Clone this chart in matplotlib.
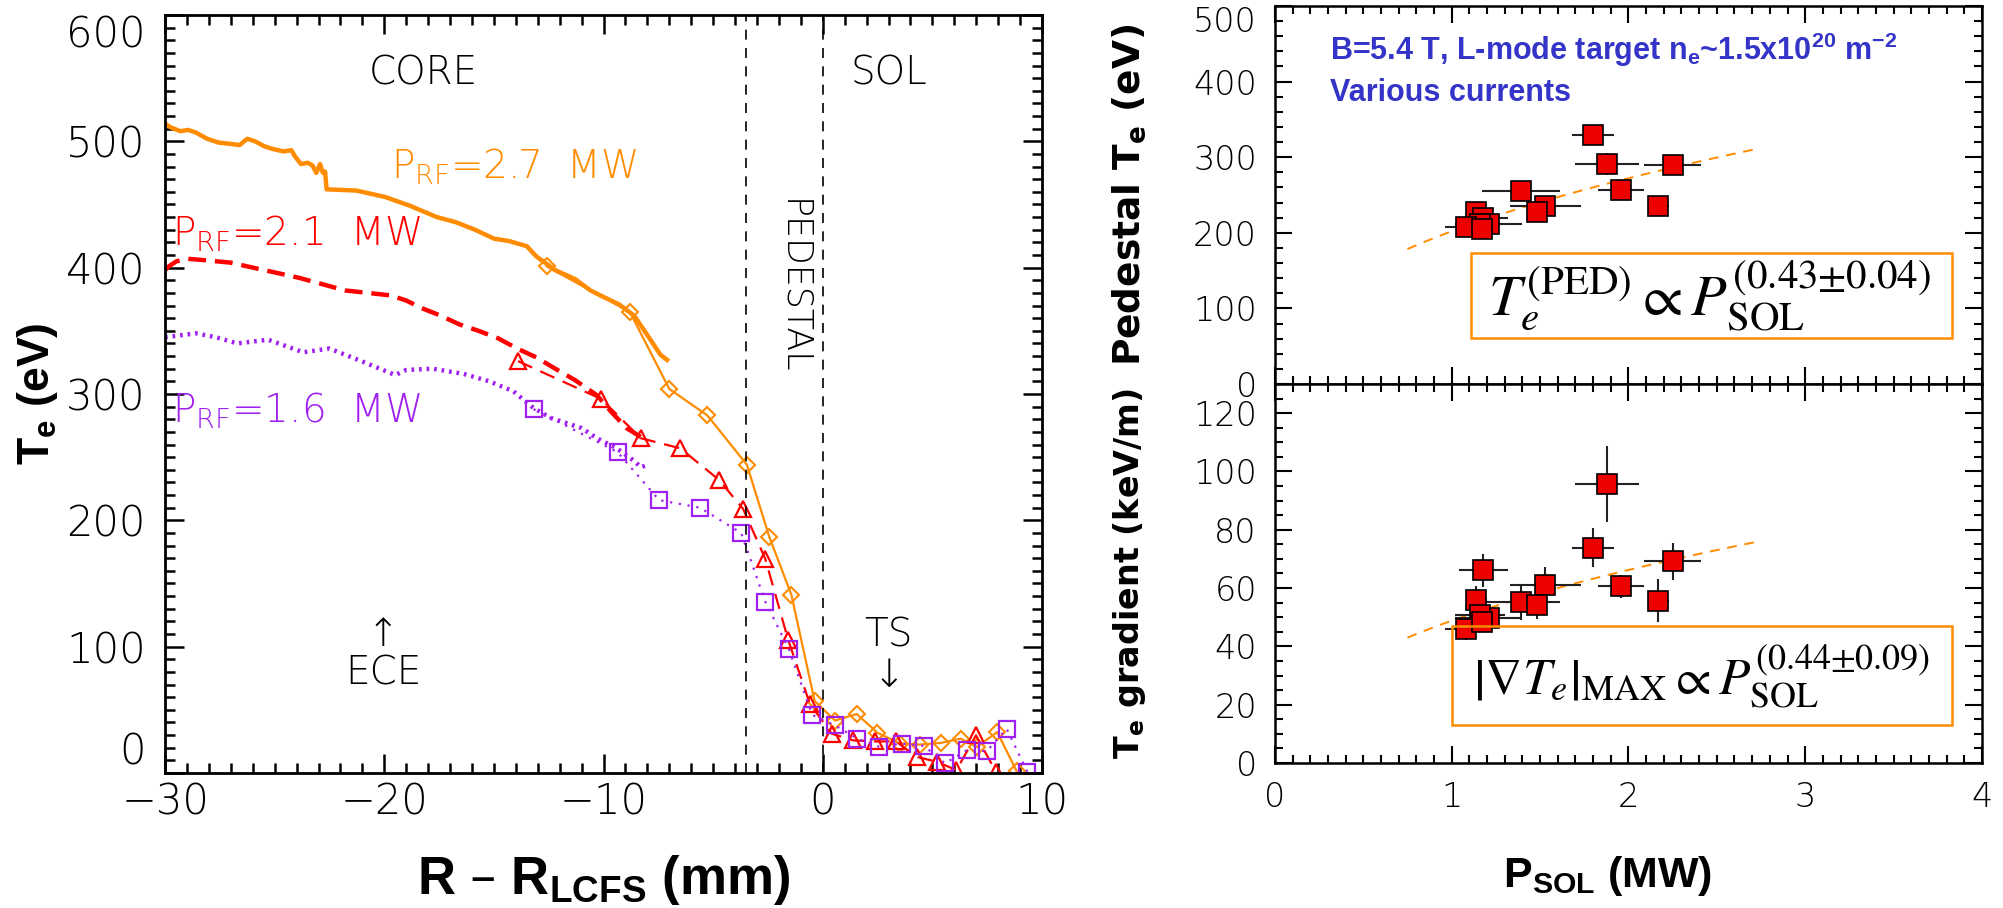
import numpy as np
import matplotlib.pyplot as plt
from matplotlib.ticker import MultipleLocator
from matplotlib.patches import Rectangle

ORANGE = '#ff8c00'
RED = '#ff0000'
PURPLE = '#a020f0'
BLUE = '#3434c8'

# --- ECE profiles (thick lines) ---
ece27_x = [-30, -29.74, -29.3, -28.95, -28.6, -28.08, -27.56, -27.03, -26.6, -26.25, -25.9, -25.46,
           -25.1, -24.6, -24.24, -24.07, -23.8, -23.5, -23.28, -23.1, -22.93, -22.8, -22.7, -22.63,
           -21.27, -19.97, -18.83, -17.6, -16.74, -15.86, -15.0, -14.3, -13.5, -13.07, -12.2, -11.3,
           -10.6, -10.14, -9.3, -8.6, -7.9, -7.4, -7.1]
ece27_t = [514, 511, 508, 509, 507, 502, 499, 498, 497, 502, 500, 496,
           494, 492, 493, 488, 482, 483, 481, 475, 482, 475, 476, 462,
           461, 456, 449, 440, 436, 430, 423, 421, 417, 409, 398, 391,
           382, 378, 371, 362, 344, 331, 327]

ece21_x = [-30, -29.83, -29.48, -28.95, -28.25, -27.03, -25.99, -24.94, -23.9, -22.84, -21.8, -20.75,
           -19.7, -19.0, -18.3, -17.43, -16.56, -15.7, -14.8, -13.94, -13.07, -12.2, -11.3, -10.3,
           -9.6, -8.95, -8.3]
ece21_t = [398, 401, 405, 407, 406, 404, 400, 396, 392, 387, 382, 380,
           378, 374, 368, 362, 355, 350, 344, 336, 329, 320, 311, 299,
           285, 273, 266]

ece16_x = [-30, -29.5, -28.6, -27.7, -26.7, -25.3, -23.7, -22.5, -20.9, -19.5, -19.0, -17.8,
           -16.4, -15.2, -14.1, -13.2, -12.4, -11.0, -10.3, -9.4, -8.6, -8.3, -7.97]
ece16_t = [345, 346, 348, 345, 340, 343, 333, 336, 325, 315, 319, 320,
           316, 310, 302, 289, 281, 273, 265, 257, 247, 242, 244]

# --- Thomson scattering profiles (symbols) ---
ts27_x = [-12.6, -8.8, -7.0, -5.26, -3.46, -2.44, -1.43, -0.37, 0.56, 1.55, 2.49, 3.52,
          4.43, 5.38, 6.29, 7.02, 7.96, 8.84]
ts27_t = [401, 365, 304, 283, 244, 187, 141, 57, 41.5, 46.7, 31.9, 23.3,
          22.5, 23.8, 27.2, 20.6, 32.4, 1.6]

ts21_x = [-13.9, -10.1, -8.3, -6.5, -4.73, -3.63, -2.62, -1.58, -0.59, 0.41, 1.39, 2.38,
          3.34, 4.28, 5.2, 6.1, 6.99, 7.9]
ts21_t = [326, 296, 265, 257, 232, 209, 169.5, 105.6, 54.8, 31.1, 25.8, 25,
          25, 12.8, 8.9, 2.3, 29.8, 1]

ts16_x = [-13.19, -9.36, -7.46, -5.6, -3.72, -2.62, -1.54, -0.48, 0.56, 1.58, 2.58, 3.6,
          4.62, 5.58, 6.57, 7.48, 8.39, 9.33]
ts16_t = [288, 254, 216, 210, 190, 135.6, 97.8, 46, 37.6, 27.2, 20.6, 23.3,
          21.4, 7.6, 18, 17.2, 35, 1]

# --- Pedestal scaling data ---
p_sol = [1.80, 1.88, 2.25, 1.96, 2.17, 1.39, 1.53, 1.48, 1.14, 1.18, 1.21, 1.16, 1.08, 1.17]
p_err = [0.12, 0.18, 0.16, 0.13, 0.06, 0.22, 0.20, 0.05, 0.06, 0.14, 0.19, 0.14, 0.12, 0.06]
te_ped = [329, 291, 290, 256, 236, 255, 236, 227, 227, 219, 211, 212, 208, 205]
te_ped_err = [13, 14, 11, 5, 12, 11, 6, 6, 5, 8, 5, 5, 5, 5]
grad_te = [73.8, 95.8, 69.2, 60.6, 55.7, 55.2, 61.2, 54.3, 56.0, 66.1, 49.7, 50.6, 45.9, 48.5]
grad_te_err = [6.7, 13, 6.3, 4, 7.3, 6, 6, 5, 4.6, 5.7, 3, 3, 3.7, 3]

fit_ped = (202.0, 0.43)
fit_grad = (48.8, 0.44)
fit_range = (0.75, 2.73)

thin = dict(family=['DejaVu Sans'], weight='light')
narrow_bold = dict(family=['Liberation Sans Narrow', 'Liberation Sans'], weight='bold')


def style_ticklabels(a, size):
    for lab in a.get_xticklabels() + a.get_yticklabels():
        lab.set_fontsize(size)
        lab.set_fontfamily(thin['family'])
        lab.set_fontweight(thin['weight'])


def pull_in_end_labels(a, lo=None, hi=None):
    # keep the first/last y tick label inside the frame
    for loc, tick in zip(a.yaxis.get_majorticklocs(), a.yaxis.get_major_ticks()):
        if lo is not None and np.isclose(loc, lo):
            tick.label1.set_va('bottom')
        if hi is not None and np.isclose(loc, hi):
            tick.label1.set_va('top')


fig = plt.figure(figsize=(20.03, 9.08), dpi=100)

# ---------------- left: Te profiles ----------------
ax = fig.add_axes([0.0824, 0.1487, 0.4378, 0.8348])
ax.plot(ece27_x, ece27_t, color=ORANGE, lw=3.2, solid_joinstyle='round')
ax.plot(ece21_x, ece21_t, color=RED, lw=3.2, ls=(0, (4, 2)))
ax.plot(ece16_x, ece16_t, color=PURPLE, lw=3.2, ls=(0, (0.6, 1.1)))

ax.plot(ts27_x, ts27_t, color=ORANGE, lw=1.6, marker='D', ms=8, mfc='none', mew=1.5)
ax.plot(ts21_x, ts21_t, color=RED, lw=1.6, ls=(0, (7, 4)), marker='^', ms=11, mfc='none', mew=1.6)
ax.plot(ts16_x, ts16_t, color=PURPLE, lw=1.6, ls=(0, (1, 3)), marker='s', ms=11, mfc='none', mew=1.6)

for xv in (-3.5, 0):
    ax.axvline(xv, color='black', lw=1.2, ls=(0, (6, 5)))

ax.set_xlim(-30, 10)
ax.set_ylim(0, 600)
ax.xaxis.set_major_locator(MultipleLocator(10))
ax.xaxis.set_minor_locator(MultipleLocator(1))
ax.yaxis.set_major_locator(MultipleLocator(100))
ax.yaxis.set_minor_locator(MultipleLocator(10))
ax.tick_params(which='both', direction='in', top=True, right=True, width=1.8)
ax.tick_params(which='major', length=14)
ax.tick_params(which='minor', length=7)
ax.tick_params(axis='y', pad=14)
ax.tick_params(axis='x', pad=6)
for sp in ax.spines.values():
    sp.set_linewidth(2)
style_ticklabels(ax, 30)
pull_in_end_labels(ax, lo=0, hi=600)

ax.set_xlabel(r'R – $\mathregular{R_{LCFS}}$ (mm)', fontsize=38, **narrow_bold)
ax.xaxis.set_label_coords(0.5, -0.105)
ax.set_ylabel(r'$\mathregular{T_e}$ (eV)', fontsize=32, fontweight='bold', family=['Liberation Sans'])
ax.yaxis.set_label_coords(-0.12, 0.5)

ax.text(-18.2, 554, 'CORE', fontsize=28, ha='center', va='center', **thin)
ax.text(3.0, 554, 'SOL', fontsize=28, ha='center', va='center', **thin)
ax.text(-1.36, 385, 'PEDESTAL', fontsize=25, rotation=270, ha='center', va='center', **thin)
ax.text(-20.05, 109, '↑', fontsize=28, ha='center', va='center', **thin)
ax.text(-20.05, 79, 'ECE', fontsize=28, ha='center', va='center', **thin)
ax.text(3.0, 109, 'TS', fontsize=28, ha='center', va='center', **thin)
ax.text(3.0, 77, '↓', fontsize=28, ha='center', va='center', **thin)

ax.text(-19.7, 480, r'$\mathregular{P_{RF}}$=2.7  MW', color=ORANGE, fontsize=28, va='center', **thin)
ax.text(-29.7, 427, r'$\mathregular{P_{RF}}$=2.1  MW', color=RED, fontsize=28, va='center', **thin)
ax.text(-29.7, 287, r'$\mathregular{P_{RF}}$=1.6  MW', color=PURPLE, fontsize=28, va='center', **thin)

# ---------------- right: pedestal scalings ----------------
axt = fig.add_axes([0.6365, 0.5771, 0.353, 0.4163])
axb = fig.add_axes([0.6365, 0.1597, 0.353, 0.4174], sharex=axt)

pfit = np.linspace(*fit_range, 50)
for a, y, yerr, (c, alpha) in ((axt, te_ped, te_ped_err, fit_ped), (axb, grad_te, grad_te_err, fit_grad)):
    a.plot(pfit, c * pfit ** alpha, color=ORANGE, lw=1.4, ls=(0, (5, 4)))
    a.errorbar(p_sol, y, xerr=p_err, yerr=yerr, fmt='none', ecolor='#222222', elinewidth=1.5, zorder=3)
    a.plot(p_sol, y, 's', ms=14, mfc='#ee0000', mec='black', mew=1.2, zorder=4)
    a.tick_params(which='both', direction='in', top=True, right=True, width=1.5)
    a.tick_params(which='major', length=12, pad=13)
    a.tick_params(which='minor', length=6)
    for sp in a.spines.values():
        sp.set_linewidth(1.8)

axt.set_xlim(0, 4)
axt.xaxis.set_major_locator(MultipleLocator(1))
axt.xaxis.set_minor_locator(MultipleLocator(0.1))
axt.tick_params(labelbottom=False)
axt.set_ylim(0, 500)
axt.yaxis.set_major_locator(MultipleLocator(100))
axt.yaxis.set_minor_locator(MultipleLocator(20))
axb.set_ylim(0, 130)
axb.yaxis.set_major_locator(MultipleLocator(20))
axb.yaxis.set_minor_locator(MultipleLocator(5))
style_ticklabels(axt, 24)
style_ticklabels(axb, 24)
pull_in_end_labels(axt, hi=500)

axt.set_ylabel(r'Pedestal $\mathregular{T_e}$ (eV)', fontsize=27, fontweight='heavy')
axt.yaxis.set_label_coords(-0.18, 0.5)
axb.set_ylabel(r'$\mathregular{T_e}$ gradient (keV/m)', fontsize=24, fontweight='heavy')
axb.yaxis.set_label_coords(-0.18, 0.5)
axb.set_xlabel(r'$\mathregular{P_{SOL}}$ (MW)', fontsize=31, **narrow_bold)
axb.xaxis.set_label_coords(0.47, -0.24)

axt.text(0.31, 442, r'B=5.4 T, L-mode target $\mathregular{n_e}$~1.5x$\mathregular{10^{20}}$ m$\mathregular{^{-2}}$',
         color=BLUE, fontsize=22, va='center', **narrow_bold)
axt.text(0.31, 385, 'Various currents', color=BLUE, fontsize=22, va='center', **narrow_bold)

axt.add_patch(Rectangle((1.11, 61), 3.83 - 1.11, 173 - 61, fill=False, ec=ORANGE, lw=1.8, zorder=5))
axt.text(2.46, 116, r'$T_e^{\mathrm{(PED)}} \propto P_{\mathrm{SOL}}^{\mathrm{(0.43{\pm}0.04)}}$',
         fontsize=42, ha='center', va='center', math_fontfamily='stix')
axb.add_patch(Rectangle((1.0, 12.9), 3.83 - 1.0, 47 - 12.9, fill=False, ec=ORANGE, lw=1.8, zorder=5))
axb.text(2.41, 29.5, r'$\left|\nabla T_e\right|_{\mathrm{MAX}} \propto P_{\mathrm{SOL}}^{\mathrm{(0.44{\pm}0.09)}}$',
         fontsize=37, ha='center', va='center', math_fontfamily='stix')

fig.savefig('out.png', dpi=100)
